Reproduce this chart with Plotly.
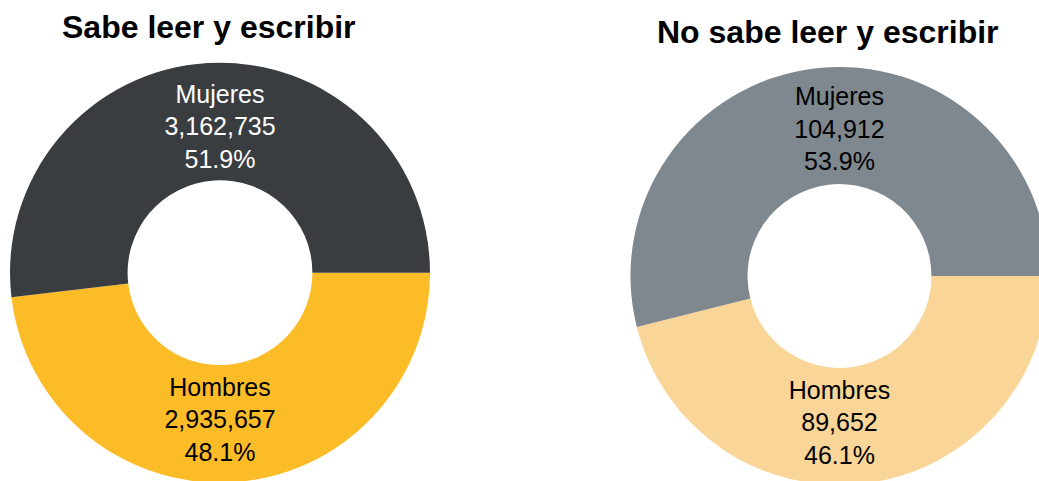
import plotly.graph_objects as go

categories = ["Hombres", "Mujeres"]
sabe_values = [2935657, 3162735]
no_sabe_values = [89652, 104912]
titles = ["Sabe leer y escribir", "No sabe leer y escribir"]

sabe_colors = ["#fbbc28", "#3a3d40"]
no_sabe_colors = ["#f9d598", "#7f888e"]
sabe_text_colors = ["#000000", "#ffffff"]
no_sabe_text_colors = ["#000000", "#000000"]

W, H = 1050, 492

def xdom(x0, x1):
    return [x0 / W, x1 / W]

def ydom(top, bottom):
    return [1 - bottom / H, 1 - top / H]

fig = go.Figure()

fig.add_trace(go.Pie(
    labels=categories, values=sabe_values,
    sort=False, direction="clockwise", rotation=90, hole=0.44,
    marker=dict(colors=sabe_colors, line=dict(width=0)),
    texttemplate="%{label}<br>%{value:,}<br>%{percent:.1%}",
    textposition="inside", insidetextorientation="horizontal",
    textfont=dict(family="Liberation Sans, Arial, sans-serif", size=25, color=sabe_text_colors),
    domain=dict(x=xdom(10, 430), y=ydom(62.7, 482.7)),
    showlegend=False, hoverinfo="label+value+percent",
))

fig.add_trace(go.Pie(
    labels=categories, values=no_sabe_values,
    sort=False, direction="clockwise", rotation=90, hole=0.44,
    marker=dict(colors=no_sabe_colors, line=dict(width=0)),
    texttemplate="%{label}<br>%{value:,}<br>%{percent:.1%}",
    textposition="inside", insidetextorientation="horizontal",
    textfont=dict(family="Liberation Sans, Arial, sans-serif", size=25, color=no_sabe_text_colors),
    domain=dict(x=xdom(630.5, 1048.5), y=ydom(67, 485)),
    showlegend=False, hoverinfo="label+value+percent",
))

title_pos = [(209, 27), (828, 32)]
for t, (px, py) in zip(titles, title_pos):
    fig.add_annotation(
        text="<b>%s</b>" % t, x=px / W, y=1 - py / H, xref="paper", yref="paper",
        xanchor="center", yanchor="middle", showarrow=False,
        font=dict(family="Liberation Sans, Arial, sans-serif", size=32, color="#000000"),
    )

fig.update_layout(
    width=W, height=H, autosize=False,
    margin=dict(l=0, r=0, t=0, b=0, pad=0),
    paper_bgcolor="#ffffff", plot_bgcolor="#ffffff",
)

fig.write_html(
    "out.html",
    config={"displayModeBar": False},
    post_script="document.body.style.margin='0';document.body.style.overflow='hidden';document.documentElement.style.overflow='hidden';",
)
